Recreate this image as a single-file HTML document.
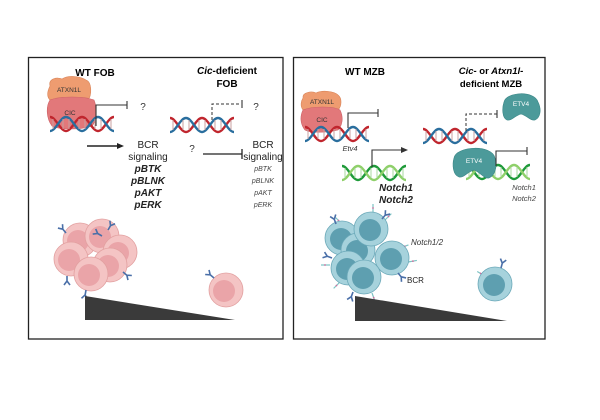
<!DOCTYPE html>
<html><head><meta charset="utf-8"><style>
html,body{margin:0;padding:0;background:#fff;}
svg{display:block;font-family:"Liberation Sans",Arial,sans-serif;}
</style></head><body>
<svg width="600" height="420" viewBox="0 0 600 420" xmlns="http://www.w3.org/2000/svg">
<defs>
<g id="dnaRB">
 <path d="M0,0 C6,0 10,14 16,14 C22,14 26,0 32,0 C38,0 42,14 48,14 C54,14 58,0 64,0" stroke="#c0262e" stroke-width="2.4" fill="none"/>
 <path d="M0,14 C6,14 10,0 16,0 C22,0 26,14 32,14 C38,14 42,0 48,0 C54,0 58,14 64,14" stroke="#2a6e9e" stroke-width="2.4" fill="none"/>
 <g stroke="#c8a0a0" stroke-width="1"><line x1="3" y1="2" x2="3" y2="12"/><line x1="13" y1="2" x2="13" y2="12"/><line x1="19" y1="2" x2="19" y2="12"/><line x1="29" y1="2" x2="29" y2="12"/><line x1="35" y1="2" x2="35" y2="12"/><line x1="45" y1="2" x2="45" y2="12"/><line x1="51" y1="2" x2="51" y2="12"/><line x1="61" y1="2" x2="61" y2="12"/></g>
</g>
<g id="dnaG">
 <path d="M0,0 C6,0 10,14 16,14 C22,14 26,0 32,0 C38,0 42,14 48,14 C54,14 58,0 64,0" stroke="#1f9a3a" stroke-width="2.4" fill="none"/>
 <path d="M0,14 C6,14 10,0 16,0 C22,0 26,14 32,14 C38,14 42,0 48,0 C54,0 58,14 64,14" stroke="#8fd06a" stroke-width="2.4" fill="none"/>
 <g stroke="#a8d8a0" stroke-width="1"><line x1="3" y1="2" x2="3" y2="12"/><line x1="13" y1="2" x2="13" y2="12"/><line x1="19" y1="2" x2="19" y2="12"/><line x1="29" y1="2" x2="29" y2="12"/><line x1="35" y1="2" x2="35" y2="12"/><line x1="45" y1="2" x2="45" y2="12"/><line x1="51" y1="2" x2="51" y2="12"/><line x1="61" y1="2" x2="61" y2="12"/></g>
</g>
<g id="pcell"><circle r="17" fill="#f4c4c4" stroke="#e2a0a0" stroke-width="0.8"/><circle cx="-2" cy="1" r="11" fill="#eaa4a8"/></g>
<g id="bcell"><circle r="17" fill="#a6d2dc" stroke="#6aa8b8" stroke-width="0.8"/><circle cx="-1" cy="1" r="11" fill="#5e9fb0"/></g>
<g id="ab" stroke="#4a6fa8" stroke-width="1.6" fill="none"><path d="M0,0 L0,-5 M0,-5 L-3,-9 M0,-5 L3,-9"/></g>
<g id="notch" stroke="#7cc4c4" stroke-width="1.2"><line x1="0" y1="0" x2="0" y2="-9"/><circle cx="0" cy="-5" r="0.9" fill="#d070a0" stroke="none"/></g>
</defs>

<rect x="28.5" y="57.5" width="254.5" height="281.5" fill="none" stroke="#222" stroke-width="1.3"/>
<rect x="293.5" y="57.5" width="251.5" height="281.5" fill="none" stroke="#222" stroke-width="1.3"/>

<!-- LEFT PANEL -->
<text x="95" y="76" font-size="10" font-weight="bold" text-anchor="middle">WT FOB</text>
<text x="227" y="74" font-size="10" font-weight="bold" text-anchor="middle"><tspan font-style="italic">Cic</tspan>-deficient</text>
<text x="227" y="87" font-size="10" font-weight="bold" text-anchor="middle">FOB</text>

<path d="M50,86 C48,78 58,77 62,79 C68,75 80,76 86,80 C92,82 92,96 88,100 C78,104 58,104 50,100 C46,96 48,90 50,86Z" fill="#ee9c70" stroke="#d98458" stroke-width="0.6"/>
<text x="69" y="92" font-size="6.5" text-anchor="middle" fill="#333">ATXN1L</text>
<path d="M50,100 C60,96 84,96 94,100 C98,110 96,122 92,126 C80,130 60,130 52,126 C46,118 46,106 50,100Z" fill="#e2787a" stroke="#cc6066" stroke-width="0.6"/>
<text x="70" y="115" font-size="6.5" text-anchor="middle" fill="#333">CIC</text>
<use href="#dnaRB" x="50" y="117"/>
<path d="M96,126 V105 H127" stroke="#333" stroke-width="1.1" fill="none"/><line x1="127" y1="101" x2="127" y2="109" stroke="#333" stroke-width="1.1"/>
<text x="143" y="110" font-size="10" text-anchor="middle" fill="#333">?</text>

<use href="#dnaRB" x="170" y="118"/>
<path d="M212,120 V104 H241" stroke="#333" stroke-width="1" fill="none" stroke-dasharray="3,2"/><line x1="242" y1="100" x2="242" y2="108" stroke="#333" stroke-width="1.1"/>
<text x="256" y="110" font-size="10" text-anchor="middle" fill="#333">?</text>

<line x1="87" y1="146" x2="118" y2="146" stroke="#222" stroke-width="1.4"/><path d="M124,146 L117,143 L117,149Z" fill="#222"/>
<g font-size="10" text-anchor="middle" fill="#222">
<text x="148" y="148">BCR</text><text x="148" y="160">signaling</text>
<g font-weight="bold" font-style="italic"><text x="148" y="172">pBTK</text><text x="148" y="184">pBLNK</text><text x="148" y="196">pAKT</text><text x="148" y="208">pERK</text></g>
</g>
<text x="192" y="152" font-size="10" text-anchor="middle" fill="#333">?</text>
<line x1="203" y1="154" x2="242" y2="154" stroke="#222" stroke-width="1.3"/><line x1="242" y1="149" x2="242" y2="159" stroke="#222" stroke-width="1.3"/>
<g font-size="10" text-anchor="middle" fill="#222"><text x="263" y="148">BCR</text><text x="263" y="160">signaling</text></g>
<g font-size="7" font-style="italic" text-anchor="middle" fill="#444"><text x="263" y="171">pBTK</text><text x="263" y="183">pBLNK</text><text x="263" y="195">pAKT</text><text x="263" y="207">pERK</text></g>

<!-- pink cluster -->
<use href="#pcell" x="80" y="240"/>
<use href="#pcell" x="102" y="236"/>
<use href="#pcell" x="120" y="252"/>
<use href="#pcell" x="71" y="259"/>
<use href="#pcell" x="110" y="265"/>
<use href="#pcell" x="91" y="274"/>
<use href="#ab" x="66" y="233" transform="rotate(-40 66 233)"/>
<use href="#ab" x="108" y="230" transform="rotate(30 108 230)"/>
<use href="#ab" x="102" y="236" transform="rotate(-60 102 236)"/>
<use href="#ab" x="67" y="276" transform="rotate(180 67 276)"/>
<use href="#ab" x="86" y="290" transform="rotate(190 86 290)"/>
<use href="#ab" x="123" y="272" transform="rotate(130 123 272)"/>
<polygon points="85,296 85,320 235,320" fill="#3a3a3a"/>
<use href="#pcell" x="226" y="290"/>
<use href="#ab" x="214" y="278" transform="rotate(-50 214 278)"/>

<!-- RIGHT PANEL -->
<text x="365" y="75" font-size="10" font-weight="bold" text-anchor="middle">WT MZB</text>
<text x="491" y="74" font-size="9.5" font-weight="bold" font-style="italic" text-anchor="middle">Cic- <tspan font-style="normal">or</tspan> Atxn1l-</text>
<text x="491" y="87" font-size="9.5" font-weight="bold" text-anchor="middle">deficient MZB</text>

<path d="M303,98 C302,92 312,91 316,93 C322,90 334,91 338,95 C342,98 342,106 338,110 C328,113 310,113 303,110 C300,106 301,101 303,98Z" fill="#ee9c70" stroke="#d98458" stroke-width="0.6"/>
<text x="322" y="104" font-size="6.5" text-anchor="middle" fill="#333">ATXN1L</text>
<path d="M303,110 C312,106 334,106 340,110 C344,118 342,126 338,130 C326,133 310,133 305,130 C300,124 300,116 303,110Z" fill="#e2787a" stroke="#cc6066" stroke-width="0.6"/>
<text x="322" y="122" font-size="6.5" text-anchor="middle" fill="#333">CIC</text>
<use href="#dnaRB" x="305" y="127"/>
<path d="M348,128 V113 H378" stroke="#333" stroke-width="1.1" fill="none"/><line x1="378" y1="109" x2="378" y2="117" stroke="#333" stroke-width="1.1"/>
<text x="350" y="151" font-size="7.5" font-style="italic" text-anchor="middle" fill="#333">Etv4</text>

<use href="#dnaG" x="342" y="166"/>
<path d="M372,167 V150 H402" stroke="#333" stroke-width="1.1" fill="none"/><path d="M408,150 L401,147 L401,153Z" fill="#333"/>
<g font-size="10" font-weight="bold" font-style="italic" text-anchor="middle" fill="#222"><text x="396" y="191">Notch1</text><text x="396" y="203">Notch2</text></g>

<use href="#dnaRB" x="423" y="129"/>
<path d="M466,131 V114 H497" stroke="#333" stroke-width="1" fill="none" stroke-dasharray="3,2"/><line x1="497" y1="110" x2="497" y2="118" stroke="#333" stroke-width="1.1"/>
<path d="M504,102 C506,92 534,90 538,102 C542,110 540,118 535,120 C530,121 528,116 521,114 C514,116 512,121 507,120 C502,118 502,108 504,102Z" fill="#4c9a9a" stroke="#3a8686" stroke-width="0.6"/>
<text x="521" y="106" font-size="6.5" text-anchor="middle" fill="#fff">ETV4</text>

<use href="#dnaG" x="466" y="165"/>
<path d="M454,158 C456,146 492,144 495,158 C498,168 494,176 489,178 C484,179 480,172 474,170 C467,172 464,178 459,177 C453,175 452,165 454,158Z" fill="#4c9a9a" stroke="#3a8686" stroke-width="0.6"/>
<text x="474" y="163" font-size="6.5" text-anchor="middle" fill="#fff">ETV4</text>
<path d="M496,166 V151 H527" stroke="#333" stroke-width="1.1" fill="none"/><line x1="527" y1="147" x2="527" y2="155" stroke="#333" stroke-width="1.1"/>
<g font-size="7.5" font-style="italic" text-anchor="middle" fill="#444"><text x="524" y="190">Notch1</text><text x="524" y="201">Notch2</text></g>

<!-- blue cluster -->
<use href="#notch" x="342" y="224" transform="rotate(-45 342 224)"/>
<use href="#notch" x="373" y="213"/>
<use href="#notch" x="385" y="220" transform="rotate(45 385 220)"/>
<use href="#notch" x="408" y="262" transform="rotate(80 408 262)"/>
<use href="#notch" x="330" y="265" transform="rotate(-90 330 265)"/>
<use href="#notch" x="340" y="282" transform="rotate(-135 340 282)"/>
<use href="#notch" x="372" y="293" transform="rotate(160 372 293)"/>
<use href="#notch" x="400" y="248" transform="rotate(70 400 248)"/>
<use href="#bcell" x="342" y="238"/>
<use href="#bcell" x="358" y="250"/>
<use href="#bcell" x="371" y="229"/>
<use href="#bcell" x="392" y="258"/>
<use href="#bcell" x="348" y="268"/>
<use href="#bcell" x="364" y="277"/>
<use href="#ab" x="336" y="224" transform="rotate(-20 336 224)"/>
<use href="#ab" x="382" y="219" transform="rotate(40 382 219)"/>
<use href="#ab" x="332" y="258" transform="rotate(-70 332 258)"/>
<use href="#ab" x="398" y="273" transform="rotate(140 398 273)"/>
<use href="#ab" x="353" y="292" transform="rotate(200 353 292)"/>
<text x="411" y="245" font-size="8" font-style="italic" fill="#333">Notch1/2</text>
<text x="407" y="283" font-size="8" fill="#222">BCR</text>
<polygon points="355,296 355,321 507,321" fill="#3a3a3a"/>
<use href="#notch" x="485" y="276" transform="rotate(-60 485 276)"/>
<use href="#bcell" x="495" y="284"/>
<use href="#ab" x="501" y="268" transform="rotate(15 501 268)"/>
</svg>
</body></html>
